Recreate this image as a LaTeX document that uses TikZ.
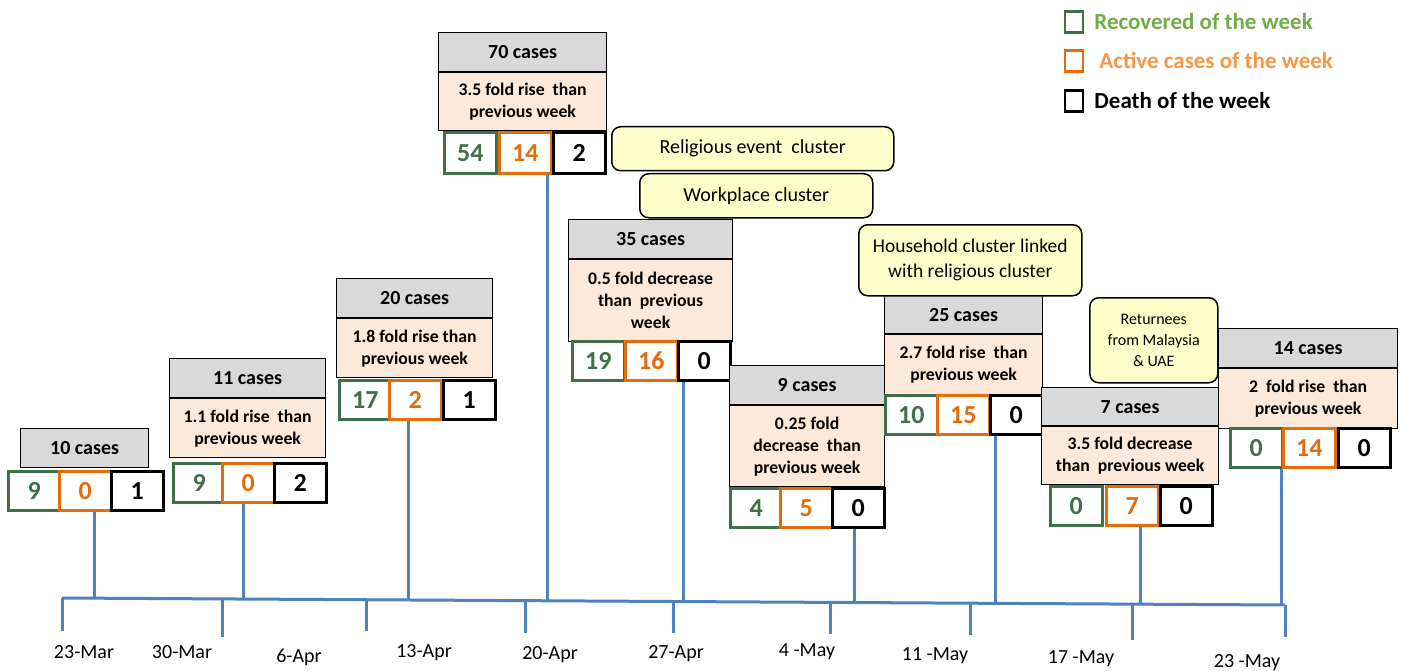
\documentclass[tikz,border=0pt]{standalone}
\usepackage{fontspec}
\setmainfont{Carlito}
\usepackage{xcolor}
\usepackage{tikz}
\usetikzlibrary{positioning}
\definecolor{hdrgray}{HTML}{D9D9D9}
\definecolor{risepink}{HTML}{FDE9D9}
\definecolor{notecol}{HTML}{FFFFCC}
\definecolor{recgreen}{HTML}{3E7049}
\definecolor{actorange}{HTML}{E46C0A}
\definecolor{leggreen}{HTML}{70AD47}
\definecolor{legorange}{HTML}{F79646}
\definecolor{lineblue}{HTML}{4F81BD}

\begin{document}
\begin{tikzpicture}[x=1pt,y=-1pt,
  hdr/.style={draw,line width=1.2pt,fill=hdrgray,anchor=north west,inner sep=0pt,
    minimum height=39,font=\bfseries\fontsize{20}{24}\selectfont},
  rise/.style={draw,line width=1.2pt,fill=risepink,align=center,inner sep=0pt,
    font=\bfseries\fontsize{17.7}{22}\selectfont},
  num/.style={draw,line width=2.6pt,fill=white,anchor=north west,inner sep=0pt,
    minimum width=52,minimum height=39,font=\bfseries\fontsize{26}{30}\selectfont},
  rec/.style={num,draw=recgreen,text=recgreen},
  act/.style={num,draw=actorange,text=actorange},
  dth/.style={num,draw=black,text=black},
  note/.style={draw,line width=1.5pt,fill=notecol,rounded corners=9pt,anchor=north west,
    inner sep=0pt,align=center,font=\fontsize{20}{25}\selectfont},
  stem/.style={lineblue,line width=3pt},
  date/.style={anchor=base,font=\fontsize{20}{24}\selectfont},
  key/.style={line width=2.5pt,inner sep=0pt,minimum width=18,minimum height=21},
  keytext/.style={inner sep=0pt,font=\bfseries\fontsize{23}{27}\selectfont}]
  \useasboundingbox (0,0) rectangle (1402,671);

  % Time axis
  \coordinate (ax0) at (62,598);
  \coordinate (ax9) at (1285,605);
  \draw[stem] (ax0) -- (ax9);
  \foreach \x/\y/\l in {62/598/33, 222/599/38, 366/600/31, 525/601/32, 673/601.5/31,
      830/602.4/32, 970/603.2/32, 1132/604/36, 1285/605/32}
    \draw[stem] (\x,\y) -- ++(0,\l);

  % Week labels
  \node[date] (d1) at (84,658) {23-Mar};
  \node[date] (d2) at (182,658) {30-Mar};
  \node[date] (d3) at (299,662) {6-Apr};
  \node[date] (d4) at (424,657) {13-Apr};
  \node[date] (d5) at (550,659) {20-Apr};
  \node[date] (d6) at (676,658) {27-Apr};
  \node[date] (d7) at (807,656) {4 -May};
  \node[date] (d8) at (935,660) {11 -May};
  \node[date] (d9) at (1081,663) {17 -May};
  \node[date] (d10) at (1247,667) {23 -May};

  % Week 1
  \node[hdr,minimum width=128] (h1) at (20,428) {10 cases};
  \node[rec] (rec1) at (7,470) {9};
  \node[act] (act1) at (58,470) {0};
  \node[dth] (dth1) at (110,470) {1};
  \coordinate (s1) at (94,598.2);
  \draw[stem] (s1) -- (s1 |- act1.south);

  % Week 2
  \node[hdr,minimum width=156] (h2) at (169,358) {11 cases};
  \node[rise,minimum width=156,minimum height=59,below=0pt of h2] (r2)
    {1.1 fold rise~ than\\previous week};
  \node[rec] (rec2) at (172,462) {9};
  \node[act] (act2) at (221,462) {0};
  \node[dth] (dth2) at (273,462) {2};
  \coordinate (s2) at (243,599);
  \draw[stem] (s2) -- (s2 |- act2.south);

  % Week 3
  \node[hdr,minimum width=156] (h3) at (336,278) {20 cases};
  \node[rise,minimum width=156,minimum height=59,below=0pt of h3] (r3)
    {1.8 fold rise than\\previous week};
  \node[rec] (rec3) at (338,379) {17};
  \node[act] (act3) at (388,379) {2};
  \node[dth] (dth3) at (442,379) {1};
  \coordinate (s3) at (408,600);
  \draw[stem] (s3) -- (s3 |- act3.south);

  % Week 4
  \node[hdr,minimum width=168] (h4) at (438,32) {70 cases};
  \node[rise,minimum width=168,minimum height=58,below=0pt of h4] (r4)
    {3.5 fold rise~ than\\previous week};
  \node[rec,minimum height=41] (rec4) at (443,131) {54};
  \node[act,minimum height=41] (act4) at (498,131) {14};
  \node[dth,minimum height=41] (dth4) at (552,131) {2};
  \coordinate (s4) at (547,600.8);
  \draw[stem] (s4) -- (s4 |- act4.south);

  % Week 5
  \node[hdr,minimum width=164] (h5) at (568,219) {35 cases};
  \node[rise,minimum width=164,minimum height=82,below=0pt of h5] (r5)
    {0.5 fold decrease\\than~ previous\\week};
  \node[rec] (rec5) at (571,340) {19};
  \node[act] (act5) at (624,340) {16};
  \node[dth] (dth5) at (677,340) {0};
  \coordinate (s5) at (683,601.6);
  \draw[stem] (s5) -- (s5 |- dth5.south);

  % Week 6
  \node[hdr,minimum width=155] (h6) at (729,365) {9 cases};
  \node[rise,minimum width=155,minimum height=81,below=0pt of h6] (r6)
    {0.25 fold\\decrease~ than\\previous week};
  \node[rec] (rec6) at (729,487) {4};
  \node[act] (act6) at (779,487) {5};
  \node[dth] (dth6) at (831,487) {0};
  \coordinate (s6) at (854,602.5);
  \draw[stem] (s6) -- (s6 |- dth6.south);

  % Week 7
  \node[hdr,minimum width=158,minimum height=38] (h7) at (884,295) {25 cases};
  \node[rise,minimum width=158,minimum height=60,below=0pt of h7] (r7)
    {2.7 fold rise~ than\\previous week};
  \node[rec] (rec7) at (884,394) {10};
  \node[act] (act7) at (936,394) {15};
  \node[dth] (dth7) at (989,394) {0};
  \coordinate (s7) at (995,603.3);
  \draw[stem] (s7) -- (s7 |- dth7.south);

  % Week 8
  \node[hdr,minimum width=177,minimum height=38] (h8) at (1041,387) {7 cases};
  \node[rise,minimum width=177,minimum height=58,below=0pt of h8] (r8)
    {3.5 fold decrease\\than~ previous week};
  \node[rec] (rec8) at (1049,485) {0};
  \node[act] (act8) at (1105,485) {7};
  \node[dth] (dth8) at (1159,485) {0};
  \coordinate (s8) at (1140,604.2);
  \draw[stem] (s8) -- (s8 |- act8.south);

  % Week 9
  \node[hdr,minimum width=179] (h9) at (1218,328) {14 cases};
  \node[rise,minimum width=179,minimum height=60,below=0pt of h9] (r9)
    {2~ fold rise~ than\\previous week};
  \node[rec] (rec9) at (1229,427) {0};
  \node[act] (act9) at (1282,427) {14};
  \node[dth] (dth9) at (1337,427) {0};
  \coordinate (s9) at (1281,605);
  \draw[stem] (s9) -- (s9 |- act9.south);

  % Clusters
  \node[note,minimum width=282,minimum height=44] (religious) at (611,126)
    {Religious event~ cluster};
  \node[note,minimum width=233,minimum height=44] (workplace) at (639,173)
    {Workplace cluster};
  \node[note,minimum width=223,minimum height=71,font=\fontsize{19.5}{25}\selectfont]
    (household) at (858,224) {Household cluster linked\\with religious cluster};
  \node[note,minimum width=128,minimum height=85,font=\fontsize{16}{21}\selectfont]
    (returnees) at (1089,297) {Returnees\\from Malaysia\\\& UAE};

  % Legend
  \node[key,draw=recgreen] (keyrec) at (1074,22) {};
  \node[keytext,text=leggreen,right=10pt of keyrec] (recnote) {Recovered of the week};
  \node[key,draw=actorange] (keyact) at (1074,61) {};
  \node[keytext,text=legorange,right=15pt of keyact] (actnote) {Active cases of the week};
  \node[key,draw=black] (keydth) at (1074,101) {};
  \node[keytext,right=10pt of keydth] (dthnote) {Death of the week};
\end{tikzpicture}
\end{document}
